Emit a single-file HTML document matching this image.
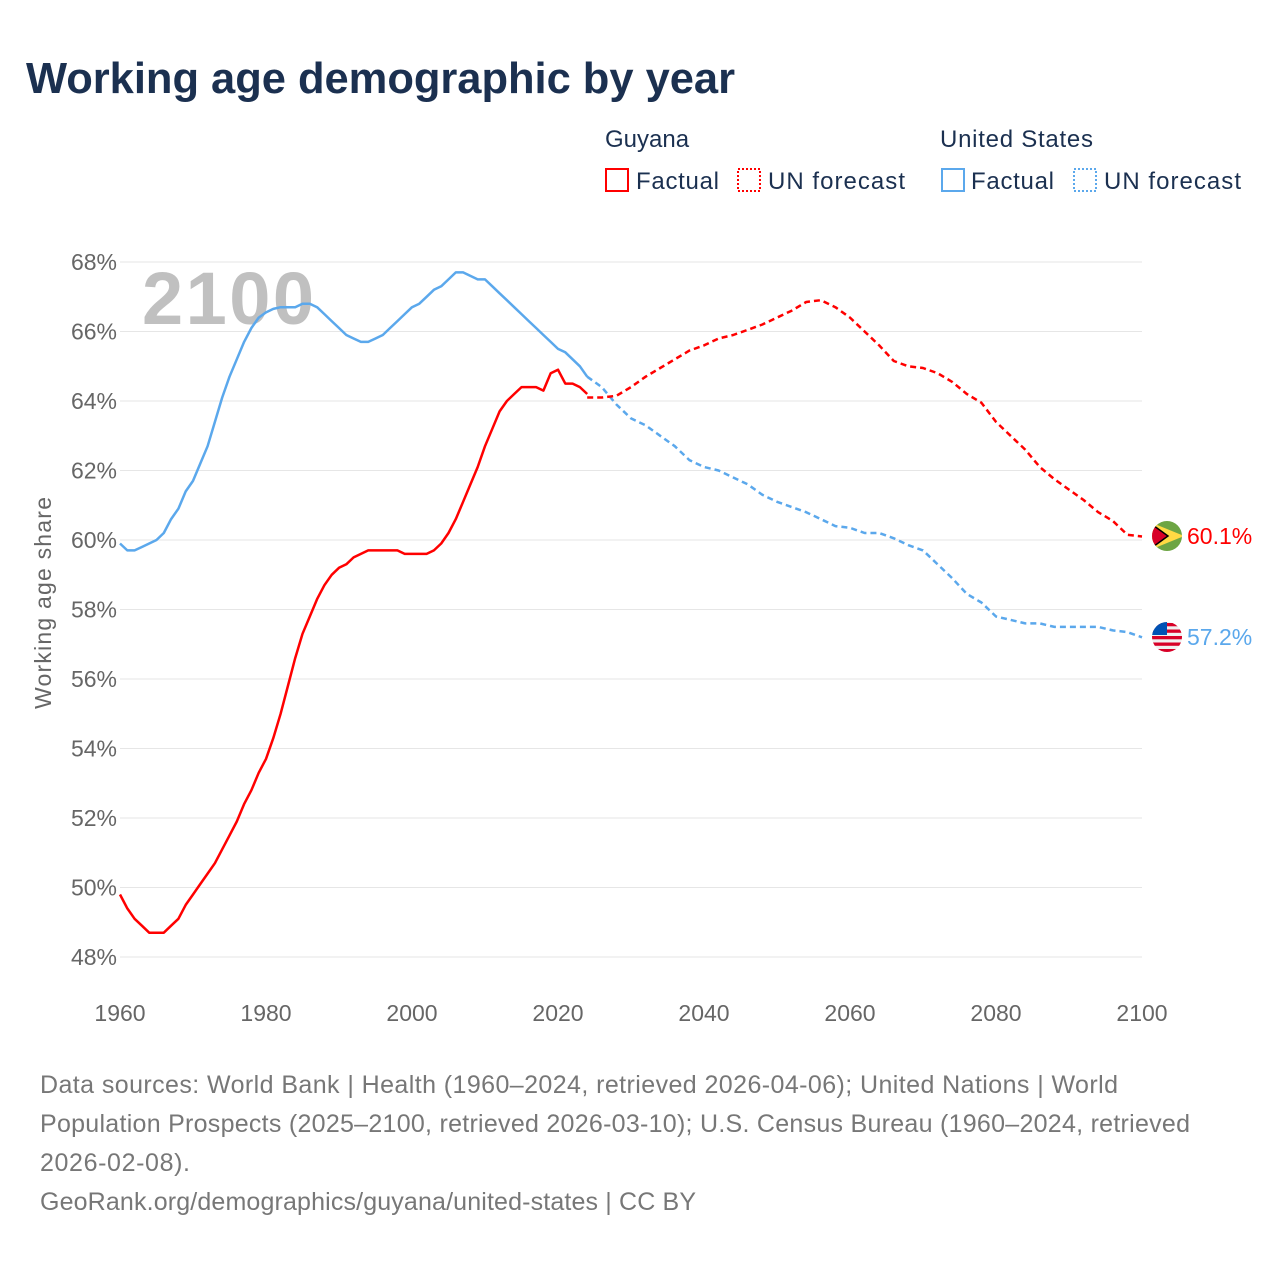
<!DOCTYPE html>
<html><head><meta charset="utf-8"><style>
body{margin:0;background:#fff;font-family:"Liberation Sans",sans-serif;}
#wrap{position:relative;width:1280px;height:1280px;overflow:hidden;}
</style></head><body>
<div id="wrap">
<svg id="chart" width="1280" height="1280" xmlns="http://www.w3.org/2000/svg">
<defs>
<clipPath id="cg"><circle cx="1167" cy="536" r="15"/></clipPath>
<clipPath id="cu"><circle cx="1167" cy="637" r="15"/></clipPath>
</defs>
<text x="26" y="93" font-size="43.5" font-weight="bold" fill="#1b3050" textLength="709">Working age demographic by year</text>
<g font-size="24" fill="#1b3050">
<text x="605" y="147">Guyana</text>
<rect x="606" y="169" width="22" height="22" fill="none" stroke="#ff0000" stroke-width="2"/>
<text x="636" y="189" textLength="83">Factual</text>
<rect x="738" y="169" width="22" height="22" fill="none" stroke="#ff0000" stroke-width="2" stroke-dasharray="2,2"/>
<text x="768" y="189" textLength="137">UN forecast</text>
<text x="940" y="147" textLength="153">United States</text>
<rect x="942" y="169" width="22" height="22" fill="none" stroke="#5ba8ec" stroke-width="2"/>
<text x="971" y="189" textLength="83">Factual</text>
<rect x="1074" y="169" width="22" height="22" fill="none" stroke="#5ba8ec" stroke-width="2" stroke-dasharray="2,2"/>
<text x="1104" y="189" textLength="137">UN forecast</text>
</g>
<g id="grid"></g>
<text x="142" y="324" font-size="74" font-weight="bold" fill="#c0c0c0" textLength="172">2100</text>
<text transform="translate(51,603) rotate(-90)" text-anchor="middle" font-size="23" fill="#666" textLength="212">Working age share</text>
<g id="series"></g>
<g font-size="25" fill="#777">
<text x="40" y="1093" textLength="1078">Data sources: World Bank | Health (1960–2024, retrieved 2026-04-06); United Nations | World</text>
<text x="40" y="1132" textLength="1150">Population Prospects (2025–2100, retrieved 2026-03-10); U.S. Census Bureau (1960–2024, retrieved</text>
<text x="40" y="1171" textLength="150">2026-02-08).</text>
<text x="40" y="1210" textLength="656">GeoRank.org/demographics/guyana/united-states | CC BY</text>
</g>
</svg>
</div>
<script>
const yTicks=[48,50,52,54,56,58,60,62,64,66,68];
const xTicks=[1960,1980,2000,2020,2040,2060,2080,2100];
const guyYears=[1960,1961,1962,1963,1964,1965,1966,1967,1968,1969,1970,1971,1972,1973,1974,1975,1976,1977,1978,1979,1980,1981,1982,1983,1984,1985,1986,1987,1988,1989,1990,1991,1992,1993,1994,1995,1996,1997,1998,1999,2000,2001,2002,2003,2004,2005,2006,2007,2008,2009,2010,2011,2012,2013,2014,2015,2016,2017,2018,2019,2020,2021,2022,2023,2024];
const guyVals=[49.8,49.4,49.1,48.9,48.7,48.7,48.7,48.9,49.1,49.5,49.8,50.1,50.4,50.7,51.1,51.5,51.9,52.4,52.8,53.3,53.7,54.3,55.0,55.8,56.6,57.3,57.8,58.3,58.7,59.0,59.2,59.3,59.5,59.6,59.7,59.7,59.7,59.7,59.7,59.6,59.6,59.6,59.6,59.7,59.9,60.2,60.6,61.1,61.6,62.1,62.7,63.2,63.7,64.0,64.2,64.4,64.4,64.4,64.3,64.8,64.9,64.5,64.5,64.4,64.2,64.1];
const guyFcYears=[2024,2026,2028,2030,2032,2034,2036,2038,2040,2042,2044,2046,2048,2050,2052,2054,2056,2058,2060,2062,2064,2066,2068,2070,2072,2074,2076,2078,2080,2082,2084,2086,2088,2090,2092,2094,2096,2098,2100];
const guyFcVals=[64.1,64.1,64.15,64.4,64.7,64.95,65.2,65.45,65.6,65.8,65.9,66.05,66.2,66.4,66.6,66.85,66.9,66.7,66.4,66.0,65.6,65.15,65.0,64.95,64.8,64.55,64.2,63.95,63.4,63.0,62.6,62.1,61.75,61.45,61.15,60.8,60.55,60.15,60.1];
const usYears=[1960,1961,1962,1963,1964,1965,1966,1967,1968,1969,1970,1971,1972,1973,1974,1975,1976,1977,1978,1979,1980,1981,1982,1983,1984,1985,1986,1987,1988,1989,1990,1991,1992,1993,1994,1995,1996,1997,1998,1999,2000,2001,2002,2003,2004,2005,2006,2007,2008,2009,2010,2011,2012,2013,2014,2015,2016,2017,2018,2019,2020,2021,2022,2023,2024];
const usVals=[59.9,59.7,59.7,59.8,59.9,60.0,60.2,60.6,60.9,61.4,61.7,62.2,62.7,63.4,64.1,64.7,65.2,65.7,66.1,66.4,66.55,66.65,66.7,66.7,66.7,66.8,66.8,66.7,66.5,66.3,66.1,65.9,65.8,65.7,65.7,65.8,65.9,66.1,66.3,66.5,66.7,66.8,67.0,67.2,67.3,67.5,67.7,67.7,67.6,67.5,67.5,67.3,67.1,66.9,66.7,66.5,66.3,66.1,65.9,65.7,65.5,65.4,65.2,65.0,64.7];
const usFcYears=[2024,2026,2028,2030,2032,2034,2036,2038,2040,2042,2044,2046,2048,2050,2052,2054,2056,2058,2060,2062,2064,2066,2068,2070,2072,2074,2076,2078,2080,2082,2084,2086,2088,2090,2092,2094,2096,2098,2100];
const usFcVals=[64.7,64.4,63.9,63.5,63.3,63.0,62.7,62.3,62.1,62.0,61.8,61.6,61.3,61.1,60.95,60.8,60.6,60.4,60.35,60.2,60.2,60.05,59.85,59.7,59.3,58.9,58.45,58.2,57.8,57.7,57.6,57.6,57.5,57.5,57.5,57.5,57.4,57.35,57.2];

const NS='http://www.w3.org/2000/svg';
const X=y=>120+(y-1960)*(1022/140);
const Y=v=>262+(68-v)*34.75;
const grid=document.getElementById('grid');
const ser=document.getElementById('series');
function mk(tag,attrs,parent){const e=document.createElementNS(NS,tag);for(const k in attrs)e.setAttribute(k,attrs[k]);parent.appendChild(e);return e;}
yTicks.forEach(t=>{
  const l=mk('line',{x1:120,x2:1142,y1:Y(t),y2:Y(t),stroke:'#e6e6e6','stroke-width':1},grid);
  
  
  const tx=mk('text',{x:117,y:Y(t)+8,'text-anchor':'end','font-size':23,fill:'#666'},grid);
  tx.textContent=t+'%';
  
  
});
xTicks.forEach(t=>{
  const tx=mk('text',{x:X(t),y:1021,'text-anchor':'middle','font-size':23,fill:'#666'},grid);
  tx.textContent=t;
  
  
});
function line(xs,vs,color,dash,name){
  const d=xs.map((y,i)=>(i?'L':'M')+X(y).toFixed(1)+','+Y(vs[i]).toFixed(1)).join('');
  const p=mk('path',{d:d,fill:'none',stroke:color,'stroke-width':2.5,'stroke-linejoin':'round'},ser);
  if(dash)p.setAttribute('stroke-dasharray','6,4');
  
  
}
line(usYears,usVals,'#5ba8ec',false,'us-factual-line');
line(usFcYears,usFcVals,'#5ba8ec',true,'us-forecast-line');
line(guyYears,guyVals,'#ff0000',false,'guyana-factual-line');
line(guyFcYears,guyFcVals,'#ff0000',true,'guyana-forecast-line');

const gy=536, uy=637;
const fg=mk('g',{'clip-path':'url(#cg)'},ser);


mk('rect',{x:1150,y:gy-16,width:34,height:32,fill:'#6da544'},fg);
mk('path',{d:`M1150,${gy-14} L1184,${gy} L1150,${gy+14}Z`,fill:'#ffda44'},fg);
mk('path',{d:`M1150,${gy-13} L1168,${gy} L1150,${gy+13}Z`,fill:'#d80027',stroke:'#000','stroke-width':1.5},fg);
const gl=mk('text',{x:1187,y:gy+8,'font-size':23,fill:'#ff0000'},ser);
gl.textContent=guyFcVals[guyFcVals.length-1].toFixed(1)+'%';


const ug=mk('g',{'clip-path':'url(#cu)'},ser);


mk('rect',{x:1150,y:uy-16,width:34,height:32,fill:'#f0f0f0'},ug);
for(let i=0;i<5;i++)mk('rect',{x:1150,y:uy-14+i*6.5,width:34,height:3.3,fill:'#d80027'},ug);
mk('rect',{x:1150,y:uy-16,width:17,height:14,fill:'#0052b4'},ug);
const ul=mk('text',{x:1187,y:uy+8,'font-size':23,fill:'#5ba8ec'},ser);
ul.textContent=usFcVals[usFcVals.length-1].toFixed(1)+'%';


</script>
</body></html>
